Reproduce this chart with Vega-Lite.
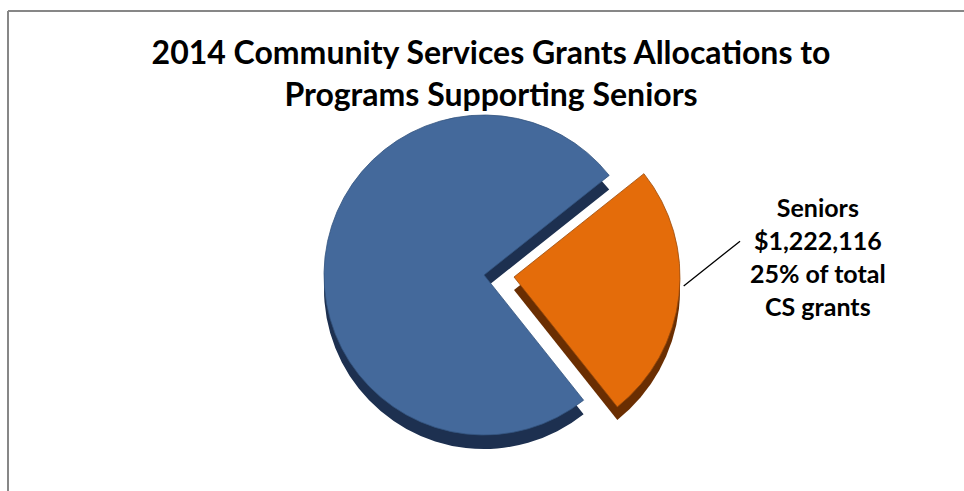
{
  "$schema": "https://vega.github.io/schema/vega-lite/v6.json",
  "width": 990,
  "height": 482,
  "autosize": {"type": "none"},
  "padding": {"left": 8, "top": 11, "right": -34, "bottom": -2},
  "background": "white",
  "view": {"stroke": "#878787", "strokeWidth": 2, "strokeDash": [990, 1472, 482, 0]},
  "config": {
    "font": "Lato"
  },
  "title": {
    "text": ["2014 Community Services Grants Allocations to", "Programs Supporting Seniors"],
    "font": "Lato",
    "fontSize": 32,
    "fontWeight": "bold",
    "lineHeight": 42,
    "color": "#000000",
    "anchor": "middle",
    "frame": "group",
    "orient": "top",
    "baseline": "top",
    "offset": -102,
    "dx": -12
  },
  "data": {
    "values": [
      {"program": "Seniors", "value": 1222116, "order": 1, "label": "Seniors\n$1,222,116\n25% of total\nCS grants"},
      {"program": "Other programs", "value": 3666348, "order": 2, "label": ""}
    ]
  },
  "transform": [
    {"stack": "value", "groupby": [], "sort": [{"field": "order"}], "as": ["v0", "v1"]}
  ],
  "layer": [
    {
      "transform": [{"filter": "datum.program !== 'Seniors'"}],
      "mark": {"type": "arc", "radius": 160, "xOffset": -19, "yOffset": 37, "fill": "#1d3050"},
      "encoding": {
        "theta": {"field": "v0", "type": "quantitative", "scale": {"domain": [0, 4888464], "range": [0.8988, 7.182]}},
        "theta2": {"field": "v1"}
      }
    },
    {
      "transform": [{"filter": "datum.program === 'Seniors'"}],
      "mark": {"type": "arc", "radius": 166, "xOffset": 11, "yOffset": 38, "fill": "#6a2e02"},
      "encoding": {
        "theta": {"field": "v0", "type": "quantitative"},
        "theta2": {"field": "v1"}
      }
    },
    {
      "transform": [{"filter": "datum.program !== 'Seniors'"}],
      "mark": {"type": "arc", "radius": 160, "xOffset": -19, "yOffset": 23, "fill": "#44699b", "stroke": "#34547f", "strokeWidth": 0.8},
      "encoding": {
        "theta": {"field": "v0", "type": "quantitative"},
        "theta2": {"field": "v1"}
      }
    },
    {
      "transform": [{"filter": "datum.program === 'Seniors'"}],
      "mark": {"type": "arc", "radius": 166, "xOffset": 11, "yOffset": 25, "fill": "#e46c0a", "stroke": "#9a4a0a", "strokeWidth": 0.8},
      "encoding": {
        "theta": {"field": "v0", "type": "quantitative"},
        "theta2": {"field": "v1"}
      }
    },
    {
      "transform": [{"filter": "datum.program === 'Seniors'"}],
      "mark": {"type": "arc", "radius": 98, "radius2": 170, "xOffset": 104, "yOffset": 95, "fill": null, "stroke": "#000000", "strokeWidth": 1.3},
      "encoding": {
        "theta": {"field": "v0", "type": "quantitative"},
        "theta2": {"field": "v0"}
      }
    },
    {
      "mark": {"type": "text", "radius": 336, "xOffset": -19, "yOffset": -81, "font": "Lato", "fontSize": 25, "fontWeight": "bold", "lineHeight": 33, "lineBreak": "\n", "align": "center", "baseline": "middle", "color": "#000000"},
      "encoding": {
        "theta": {"field": "value", "type": "quantitative", "stack": true},
        "order": {"field": "order", "type": "quantitative"},
        "text": {"field": "label"}
      }
    }
  ]
}
